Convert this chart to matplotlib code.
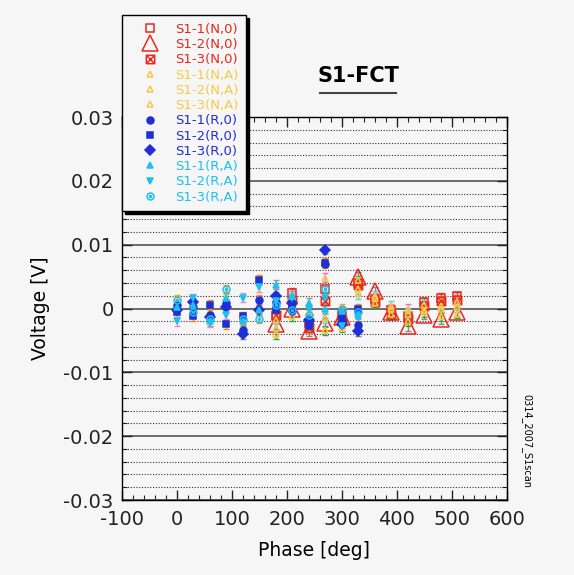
import matplotlib
matplotlib.use("Agg")
import matplotlib.pyplot as plt
from matplotlib.lines import Line2D
from matplotlib.path import Path
from matplotlib.ticker import MultipleLocator, FuncFormatter

plt.rcParams["axes.unicode_minus"] = False

# phases (deg) of the two scans
phase_R = [0, 30, 60, 90, 120, 150, 180, 210, 240, 270, 300, 330]
phase_N = [180, 210, 240, 270, 300, 330, 360, 390, 420, 450, 480, 510]

# voltages [V]
s11_N0 = [-0.0012, 0.0025, -0.0022, 0.0030, -0.0010, 0.0040, 0.0015, -0.0002, -0.0012, 0.0010, 0.0017, 0.0019]
s12_N0 = [-0.0025, 0.0000, -0.0036, -0.0022, -0.0014, 0.0050, 0.0027, -0.0005, -0.0028, -0.0010, -0.0017, -0.0006]
s13_N0 = [-0.0010, 0.0014, -0.0030, 0.0012, -0.0020, 0.0037, 0.0010, -0.0010, -0.0017, 0.0004, 0.0012, 0.0014]
s11_NA = [-0.0030, 0.0008, -0.0010, 0.0048, -0.0006, 0.0030, 0.0017, 0.0000, 0.0000, -0.0002, 0.0000, 0.0002]
s12_NA = [-0.0040, -0.0012, -0.0026, -0.0034, -0.0030, 0.0044, 0.0008, -0.0008, -0.0020, -0.0006, -0.0012, -0.0008]
s13_NA = [-0.0018, 0.0020, -0.0014, -0.0015, -0.0018, 0.0022, 0.0020, 0.0004, -0.0008, 0.0006, 0.0004, 0.0010]
s11_R0 = [0.0006, 0.0003, -0.0010, 0.0008, -0.0033, 0.0014, 0.0010, -0.0004, -0.0022, 0.0070, -0.0020, -0.0026]
s12_R0 = [-0.0006, -0.0012, 0.0006, -0.0025, -0.0012, 0.0045, -0.0002, 0.0004, -0.0028, 0.0072, -0.0012, 0.0000]
s13_R0 = [-0.0002, 0.0010, -0.0013, 0.0002, -0.0040, -0.0002, 0.0019, 0.0008, -0.0018, 0.0092, -0.0024, -0.0036]
s11_RA = [0.0003, 0.0006, -0.0020, 0.0017, -0.0020, -0.0003, 0.0037, 0.0020, 0.0009, 0.0000, -0.0004, -0.0010]
s12_RA = [-0.0020, 0.0016, -0.0022, -0.0010, 0.0017, 0.0033, 0.0012, 0.0017, 0.0000, 0.0017, -0.0028, -0.0014]
s13_RA = [0.0014, -0.0006, -0.0016, 0.0030, -0.0017, -0.0016, 0.0005, -0.0002, -0.0010, 0.0030, 0.0000, -0.0006]

labels = ["S1-1(N,0)", "S1-2(N,0)", "S1-3(N,0)",
          "S1-1(N,A)", "S1-2(N,A)", "S1-3(N,A)",
          "S1-1(R,0)", "S1-2(R,0)", "S1-3(R,0)",
          "S1-1(R,A)", "S1-2(R,A)", "S1-3(R,A)"]

RED = "#e8281e"
YEL = "#f7c948"
BLUE = "#1f2fd8"
CYAN = "#1ec0f0"
BG = "#f6f6f6"

# custom markers: boxed cross and dotted circle
M, L = Path.MOVETO, Path.LINETO
box_x = Path([(-1, -1), (1, -1), (1, 1), (-1, 1), (-1, -1), (-1, -1), (1, 1), (-1, 1), (1, -1)],
             [M, L, L, L, L, M, L, M, L])
circ_dot = Path.make_compound_path(Path.unit_circle(), Path.circle((0, 0), 0.3))

series = [
    # x, y, marker, size, color, filled, errorbar colour
    (phase_N, s11_N0, "s", 6, RED, False, "#ff3333"),
    (phase_N, s12_N0, "^", 12, RED, False, "#888888"),
    (phase_N, s13_N0, box_x, 6, RED, False, "#ff6600"),
    (phase_N, s11_NA, "^", 5, YEL, False, "#ff66cc"),
    (phase_N, s12_NA, "^", 5, YEL, False, "#33aa33"),
    (phase_N, s13_NA, "^", 5, YEL, False, "#44ddee"),
    (phase_R, s11_R0, "o", 5, BLUE, True, "#ff9900"),
    (phase_R, s12_R0, "s", 5, BLUE, True, "#ff8800"),
    (phase_R, s13_R0, "D", 5, BLUE, True, "#888888"),
    (phase_R, s11_RA, "^", 5, CYAN, True, "#999999"),
    (phase_R, s12_RA, "v", 5, CYAN, True, "#ee88cc"),
    (phase_R, s13_RA, circ_dot, 5, CYAN, False, "#ffaa00"),
]
yerr = 0.0007

fig = plt.figure(figsize=(5.74, 5.75), dpi=100, facecolor=BG)
ax = fig.add_axes([0.2125, 0.1304, 0.6707, 0.6661], facecolor=BG)

handles = []
for x, y, mk, ms, col, filled, ecol in series:
    fc = col if filled else "none"
    ax.errorbar(x, y, yerr=yerr, fmt="none", ecolor=ecol, elinewidth=1, capsize=2.5, zorder=2)
    ax.plot(x, y, linestyle="none", marker=mk, markersize=ms, markerfacecolor=fc,
            markeredgecolor=col, markeredgewidth=1.1, zorder=3)
    handles.append(Line2D([], [], linestyle="none", marker=mk, markersize=ms,
                          markerfacecolor=fc, markeredgecolor=col, markeredgewidth=1.1))

ax.set_xlim(-100, 600)
ax.set_ylim(-0.03, 0.03)
ax.xaxis.set_major_locator(MultipleLocator(100))
ax.xaxis.set_minor_locator(MultipleLocator(20))
ax.yaxis.set_major_locator(MultipleLocator(0.01))
ax.yaxis.set_minor_locator(MultipleLocator(0.002))
ax.yaxis.set_major_formatter(FuncFormatter(lambda v, p: "0" if abs(v) < 1e-9 else f"{v:g}"))

ax.grid(True, axis="y", which="major", color="#555555", linewidth=1.2, linestyle="-", zorder=0)
ax.grid(True, axis="y", which="minor", color="#333333", linewidth=0.8, linestyle=(0, (1, 1.5)), zorder=0)
ax.set_axisbelow(True)

ax.tick_params(which="both", direction="in", top=True, right=True, labelsize=14, colors="#222222")
ax.tick_params(which="major", length=7, width=1)
ax.tick_params(which="minor", length=3.5, width=0.8)
ax.tick_params(axis="x", pad=7)
ax.tick_params(axis="y", pad=6)
for s in ax.spines.values():
    s.set_color("black")
    s.set_linewidth(1)

ax.set_xlabel("Phase [deg]", fontsize=13.5, labelpad=9)
ax.set_ylabel("Voltage [V]", fontsize=13.5, labelpad=10)

leg = fig.legend(handles, labels, loc="upper left", bbox_to_anchor=(0.2125, 0.974),
                 borderaxespad=0, fontsize=9.5, labelspacing=0.17, handlelength=3.0,
                 handletextpad=0.4, borderpad=0.6, fancybox=False, edgecolor="black",
                 facecolor=BG, framealpha=1, shadow={"color": "black", "alpha": 1},
                 labelcolor=[RED] * 3 + [YEL] * 3 + [BLUE] * 3 + [CYAN] * 3)
leg.get_frame().set_linewidth(1)

fig.text(0.624, 0.868, "S1-FCT", fontsize=15, fontweight="bold", ha="center", va="center")
fig.add_artist(Line2D([0.558, 0.690], [0.838, 0.838], color="#444444", linewidth=1.5))
fig.text(0.918, 0.233, "0314_2007_S1scan", fontsize=7, rotation=-90, ha="center", va="center")

fig.savefig("out.png", dpi=100, facecolor=BG)
plt.close(fig)
